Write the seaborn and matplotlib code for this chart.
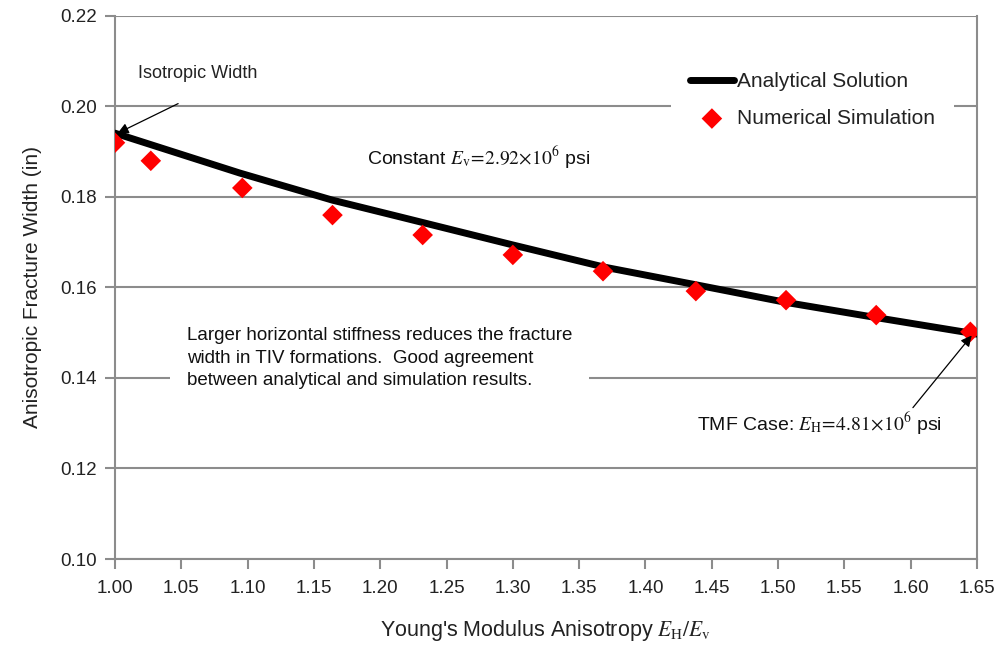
import matplotlib
matplotlib.use("Agg")
import matplotlib.pyplot as plt
import seaborn as sns
import pandas as pd

# Analytical solution: fracture width vs. modulus anisotropy ratio
ratio_analytical = [1.000, 1.094, 1.164, 1.215, 1.300, 1.369, 1.438, 1.506, 1.575, 1.650]
width_analytical = [0.1941, 0.1853, 0.1793, 0.1756, 0.1694, 0.1645, 0.1606, 0.1567, 0.1533, 0.1497]

# Numerical simulation results
ratio_numerical = [1.000, 1.027, 1.096, 1.164, 1.232, 1.300, 1.368, 1.438, 1.506, 1.574, 1.645]
width_numerical = [0.1920, 0.1880, 0.1820, 0.1760, 0.1716, 0.1672, 0.1636, 0.1592, 0.1572, 0.1539, 0.1502]

x_ticks = [1.00, 1.05, 1.10, 1.15, 1.20, 1.25, 1.30, 1.35, 1.40, 1.45, 1.50, 1.55, 1.60, 1.65]
y_ticks = [0.10, 0.12, 0.14, 0.16, 0.18, 0.20, 0.22]

sns.set_theme(style="white")
plt.rcParams["font.family"] = ["Liberation Sans", "DejaVu Sans"]
plt.rcParams["mathtext.fontset"] = "stix"

grid_gray = "#8c8c8c"

fig = plt.figure(figsize=(10, 6.5), dpi=100)
ax = fig.add_axes([0.115, 0.14, 0.862, 0.8354])

df_a = pd.DataFrame({"ratio": ratio_analytical, "width": width_analytical})
df_n = pd.DataFrame({"ratio": ratio_numerical, "width": width_numerical})

sns.lineplot(data=df_a, x="ratio", y="width", ax=ax, color="black", linewidth=5,
             label="Analytical Solution", zorder=3)
sns.scatterplot(data=df_n, x="ratio", y="width", ax=ax, color="#ff0000", marker="D",
                s=110, edgecolor="none", label="Numerical Simulation", zorder=4)

ax.set_xlim(1.00, 1.65)
ax.set_ylim(0.10, 0.22)
ax.set_xticks(x_ticks)
ax.set_yticks(y_ticks)
ax.set_xticklabels([f"{v:.2f}" for v in x_ticks])
ax.set_yticklabels([f"{v:.2f}" for v in y_ticks])
ax.tick_params(axis="both", direction="out", length=7, width=1.5, color=grid_gray,
               labelsize=13.5, labelcolor="#222222", pad=6)
ax.tick_params(axis="x", pad=8)
ax.tick_params(axis="both", which="both", bottom=True, left=True, top=False, right=False)

ax.yaxis.grid(True, color=grid_gray, linewidth=1.5)
ax.xaxis.grid(False)
ax.set_axisbelow(True)
for side in ["left", "bottom", "right"]:
    ax.spines[side].set_visible(True)
    ax.spines[side].set_color(grid_gray)
    ax.spines[side].set_linewidth(1.5)
ax.spines["top"].set_visible(False)

ax.set_xlabel(r"Young's Modulus Anisotropy $E_\mathrm{H}/E_\mathrm{v}$", fontsize=15.5,
              color="#222222", labelpad=15)
ax.set_ylabel("Anisotropic Fracture Width (in)", fontsize=15, color="#222222", labelpad=13)

leg = ax.legend(loc="upper right", bbox_to_anchor=(0.985, 0.95), fontsize=15,
                frameon=True, facecolor="white", edgecolor="none", framealpha=1,
                handlelength=2.1, handletextpad=0.15, labelspacing=0.85, borderpad=0.9)
leg.set_zorder(5)
for t in leg.get_texts():
    t.set_color("#222222")

ax.text(1.190, 0.1886, r"Constant $E_\mathrm{v}\!=\!2.92\!\times\!10^6$ psi",
        fontsize=14, color="#111111", ha="left", va="center", zorder=5)

ax.text(1.054, 0.1444,
        "Larger horizontal stiffness reduces the fracture\n"
        "width in TIV formations.  Good agreement\n"
        "between analytical and simulation results.",
        fontsize=13.5, color="#111111", ha="left", va="center", linespacing=1.42,
        zorder=5, bbox=dict(facecolor="white", edgecolor="none", pad=12))

ax.annotate("Isotropic Width", xy=(1.002, width_analytical[0]),
            xytext=(1.017, 0.2074), fontsize=13, color="#222222", ha="left", va="center",
            zorder=6,
            arrowprops=dict(arrowstyle="-|>", color="black", lw=0.9, mutation_scale=16,
                            shrinkA=0, shrinkB=0, relpos=(0.34, -1.3)))

ax.annotate(r"TMF Case: $E_\mathrm{H}\!=\!4.81\!\times\!10^6$ psi",
            xy=(1.646, width_numerical[-1] - 0.0008), xytext=(1.439, 0.1298),
            fontsize=14, color="#111111", ha="left", va="center", zorder=6,
            arrowprops=dict(arrowstyle="-|>", color="black", lw=0.9, mutation_scale=16,
                            shrinkA=0, shrinkB=0, relpos=(0.87, 1.0)))

fig.savefig("out.png", dpi=100, facecolor="white")
